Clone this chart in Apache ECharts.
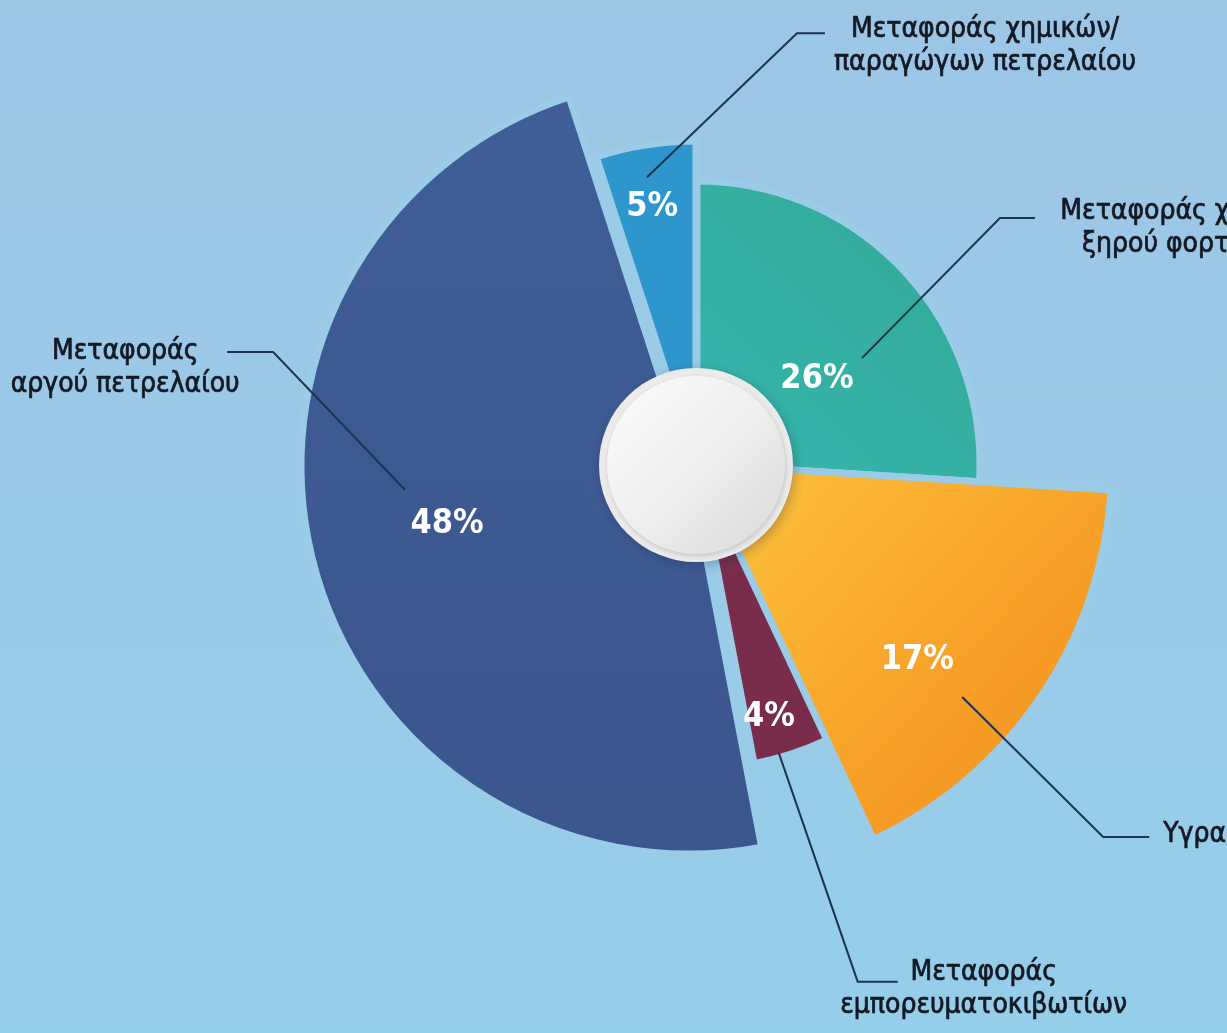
<!DOCTYPE html>
<html>
<head>
<meta charset="utf-8">
<script src="https://cdn.jsdelivr.net/npm/echarts@6/dist/echarts.min.js"></script>
<style>
html,body{margin:0;padding:0;background:#9acbe7;}
#c{width:1227px;height:1033px;}
</style>
</head>
<body>
<div id="c"></div>
<script>
// ---- data ----
const categories = [
  'Μεταφοράς χύδην\nξηρού φορτίου',
  'Υγραεριοφόρων',
  'Μεταφοράς\nεμπορευματοκιβωτίων',
  'Μεταφοράς\nαργού πετρελαίου',
  'Μεταφοράς χημικών/\nπαραγώγων πετρελαίου'
];
const shares = [26, 17, 4, 48, 5];

// ---- layout / style ----
const CX = 697, CY = 464;
const BG = '#9acbe7';
const FONT = "'Liberation Sans Narrow','DejaVu Sans Condensed','Roboto Condensed','Noto Sans',sans-serif";
const sliceRadius = [283, 415, 305, 388, 323];
const sliceShift = [[0, 0], [0, 0], [0, 0], [-8, 2], [-1, 0]];
const colors = [
  new echarts.graphic.LinearGradient(0, 1, 1, 0, [{offset: 0, color: '#36b7b0'}, {offset: 1, color: '#32a893'}]),
  new echarts.graphic.LinearGradient(0, 0, 1, 1, [{offset: 0, color: '#fdc53c'}, {offset: 0.6, color: '#f7a027'}, {offset: 1, color: '#f28c1d'}]),
  '#7a2c4d',
  new echarts.graphic.LinearGradient(0, 0, 0, 1, [{offset: 0, color: '#3f5d97'}, {offset: 1, color: '#3b558d'}]),
  '#2c96cd'
];
// percent label placement (angle offset from mid angle, radius)
const pctPlace = [[7.9, 147], [7.5, 295], [2.1, 263], [0.9, 257], [-0.9, 261]];
// leader lines: start (angle offset, radius), elbow offset, horizontal length, label placement
const lead = [
  {a: 10.5, r: 196, ex: 138, ey: -140, h: 35, mode: 'gapCenter', gap: 25, ty: -22.5},
  {a: 7.1, r: 353, ex: 141, ey: 140, h: 46, mode: 'left', gap: 14, ty: -18.5},
  {a: 2.2, r: 300, ex: 79, ey: 229, h: 40, mode: 'center', cx: 86, ty: -25.5},
  {a: 9.3, r: 293, ex: -132, ey: -138, h: -46, mode: 'center', cx: -102, ty: -16.5},
  {a: -0.9, r: 291, ex: 150, ey: -144, h: 28, mode: 'center', cx: 160, ty: -20.5}
];

const total = shares.reduce((s, v) => s + v, 0);
const mids = [];
{
  let acc = 0;
  shares.forEach(v => { mids.push((acc + v / 2) / total * 360); acc += v; });
}
function polar(deg, r) {
  const t = deg * Math.PI / 180;
  return [CX + r * Math.sin(t), CY - r * Math.cos(t)];
}

const series = [];
shares.forEach((_, k) => {
  series.push({
    type: 'pie',
    center: [CX + sliceShift[k][0], CY + sliceShift[k][1]],
    radius: [0, sliceRadius[k]],
    startAngle: 90,
    clockwise: true,
    silent: true,
    animation: false,
    avoidLabelOverlap: false,
    z: 2,
    label: {
      position: 'inside',
      formatter: '{c}%',
      color: '#ffffff',
      fontSize: 34,
      fontWeight: 'bold',
      fontFamily: FONT
    },
    labelLine: {show: false},
    labelLayout: function (p) {
      if (p.dataIndex !== k) return {};
      const pos = polar(mids[k] + pctPlace[k][0], pctPlace[k][1]);
      return {x: pos[0], y: pos[1], align: 'center', verticalAlign: 'middle'};
    },
    data: shares.map((v, i) => ({
      name: categories[i],
      value: v,
      itemStyle: i === k
        ? {color: colors[k], borderColor: BG, borderWidth: 7, borderJoin: 'miter'}
        : {color: 'rgba(0,0,0,0)', borderWidth: 0},
      label: {show: i === k}
    }))
  });
});

// name labels with leader lines
series.push({
  type: 'pie',
  center: [CX, CY],
  radius: [0, 100],
  startAngle: 90,
  clockwise: true,
  silent: true,
  animation: false,
  avoidLabelOverlap: false,
  z: 20,
  itemStyle: {color: 'rgba(0,0,0,0)', borderWidth: 0},
  label: {
    show: true,
    position: 'outside',
    formatter: '{b}',
    color: '#131922',
    fontSize: 28,
    lineHeight: 33,
    fontFamily: FONT,
    textBorderColor: '#131922',
    textBorderWidth: 0.7,
    overflow: 'none'
  },
  labelLine: {show: true, lineStyle: {color: '#1d3350', width: 2}, smooth: false},
  labelLayout: function (p) {
    const i = p.dataIndex;
    const L = lead[i];
    const s = polar(mids[i] + L.a, L.r);
    const e = [s[0] + L.ex, s[1] + L.ey];
    const f = [e[0] + L.h, e[1]];
    const w = p.labelRect.width;
    let x, align = 'center';
    if (L.mode === 'gapCenter') x = f[0] + L.gap + w / 2;
    else if (L.mode === 'left') { x = f[0] + L.gap; align = 'left'; }
    else x = f[0] + L.cx;
    return {
      x: x, y: f[1] + L.ty, align: align, verticalAlign: 'top',
      labelLinePoints: [s, e, f]
    };
  },
  data: shares.map((v, i) => ({name: categories[i], value: v}))
});

const chart = echarts.init(document.getElementById('c'), null, {renderer: 'canvas'});
chart.setOption({
  backgroundColor: new echarts.graphic.LinearGradient(0, 0, 0, 1, [
    {offset: 0, color: '#9dc6e5'}, {offset: 1, color: '#95cee9'}
  ]),
  animation: false,
  series: series,
  graphic: [
    {type: 'circle', z: 100, shape: {cx: CX - 1, cy: CY + 1, r: 97},
      style: {fill: '#ebebeb', shadowBlur: 12, shadowColor: 'rgba(20,40,70,0.3)', shadowOffsetX: 2, shadowOffsetY: 3}},
    {type: 'circle', z: 101, shape: {cx: CX - 1, cy: CY + 1, r: 89},
      style: {
        fill: new echarts.graphic.LinearGradient(0, 0, 1, 1, [{offset: 0, color: '#fcfcfc'}, {offset: 0.55, color: '#ededed'}, {offset: 1, color: '#dadada'}]),
        shadowBlur: 5, shadowColor: 'rgba(0,0,0,0.16)', shadowOffsetX: 1, shadowOffsetY: 2
      }}
  ]
});
</script>
</body>
</html>
